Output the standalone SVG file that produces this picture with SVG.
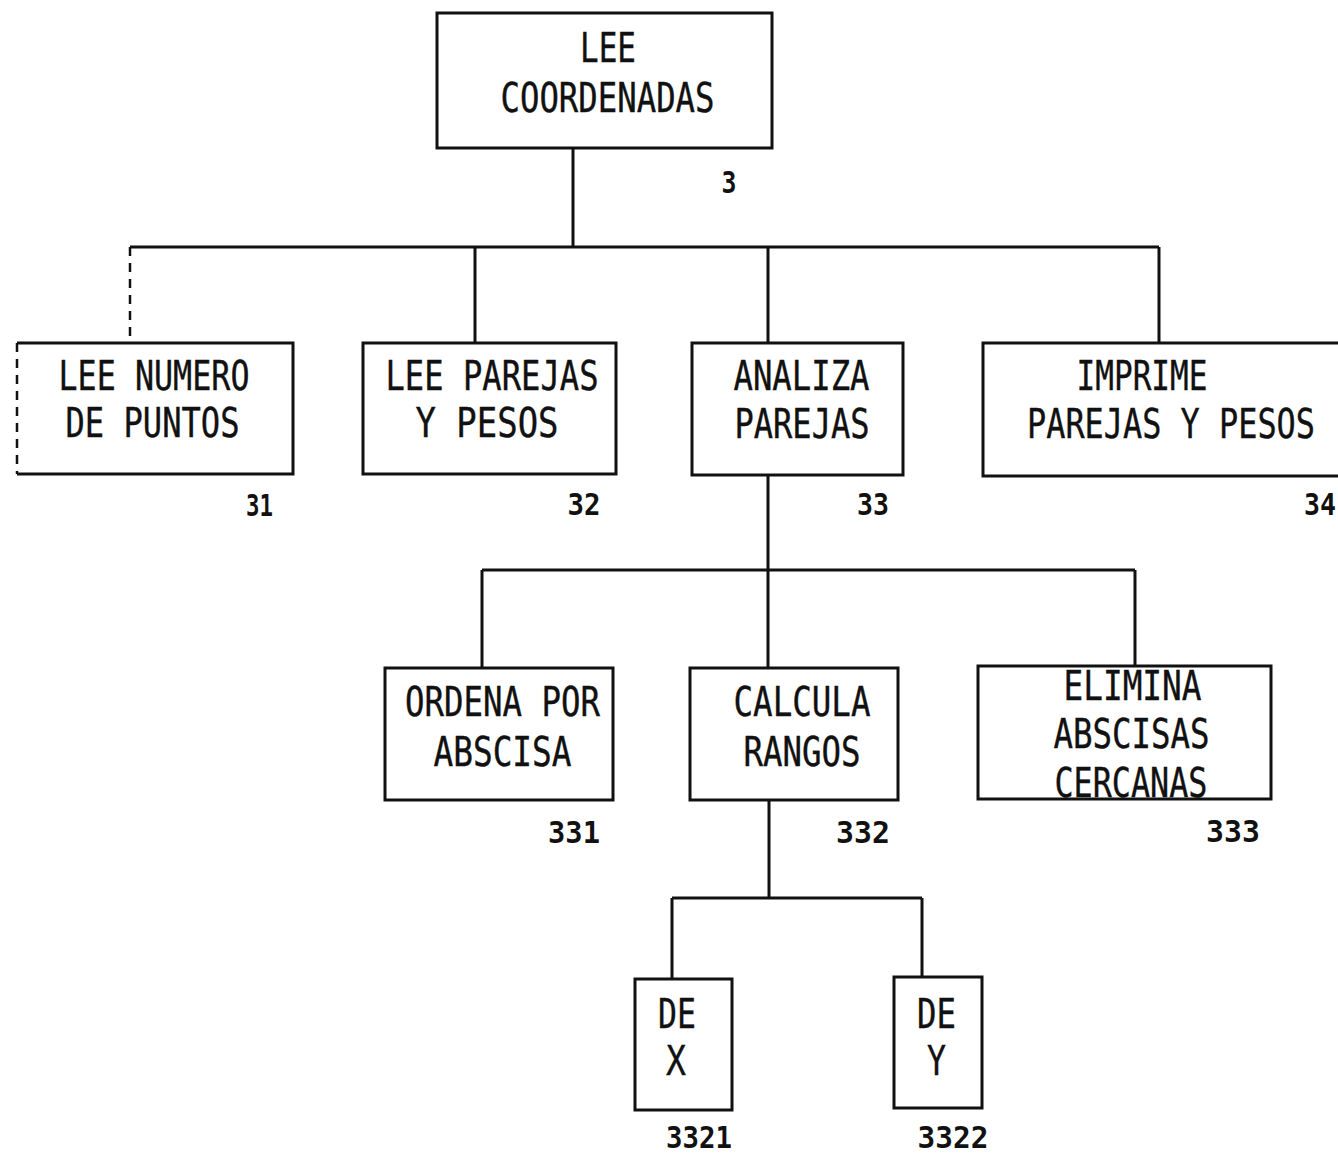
<svg xmlns="http://www.w3.org/2000/svg" width="1338" height="1154" viewBox="0 0 1338 1154">
<style>
.box{fill:#fff;stroke:#111;stroke-width:3}
.ln{fill:none;stroke:#111;stroke-width:3}
.dash{fill:none;stroke:#111;stroke-width:2.5;stroke-dasharray:9 7}
.t{font-family:"DejaVu Sans Mono","Liberation Mono",monospace;font-size:41px;fill:#111;stroke:#111;stroke-width:0.4;text-anchor:middle}
.n{font-family:"DejaVu Sans Mono","Liberation Mono",monospace;font-size:30px;font-weight:bold;fill:#111;text-anchor:middle}
</style>
<rect width="1338" height="1154" fill="#fff"/>
<g id="connectors">
<path class="ln" d="M573 148V247"/>
<path class="ln" d="M130 247H1159"/>
<path class="dash" d="M130 247V340"/>
<path class="ln" d="M475 247V343"/>
<path class="ln" d="M768 247V343"/>
<path class="ln" d="M1159 247V343"/>
<path class="ln" d="M768 475V668"/>
<path class="ln" d="M482 570H1135"/>
<path class="ln" d="M482 570V668"/>
<path class="ln" d="M1135 570V666"/>
<path class="ln" d="M769 800V898"/>
<path class="ln" d="M672 898H922"/>
<path class="ln" d="M672 898V979"/>
<path class="ln" d="M922 898V977"/>
</g>
<g id="n3">
<rect class="box" x="437" y="13" width="335" height="135"/>
<text class="t" x="608" y="62" textLength="56" lengthAdjust="spacingAndGlyphs">LEE</text>
<text class="t" x="607.5" y="112" textLength="214" lengthAdjust="spacingAndGlyphs">COORDENADAS</text>
<text class="n" x="729" y="193" textLength="15" lengthAdjust="spacingAndGlyphs">3</text>
</g>
<g id="n31">
<path class="box" d="M17 343H293V474H17"/>
<path class="dash" d="M17 343V474"/>
<text class="t" x="154" y="390" textLength="191" lengthAdjust="spacingAndGlyphs">LEE NUMERO</text>
<text class="t" x="152.5" y="437" textLength="174" lengthAdjust="spacingAndGlyphs">DE PUNTOS</text>
<text class="n" x="259.5" y="516" textLength="27" lengthAdjust="spacingAndGlyphs">31</text>
</g>
<g id="n32">
<rect class="box" x="363" y="343" width="253" height="131"/>
<text class="t" x="492" y="390" textLength="213" lengthAdjust="spacingAndGlyphs">LEE PAREJAS</text>
<text class="t" x="487" y="437" textLength="143" lengthAdjust="spacingAndGlyphs">Y PESOS</text>
<text class="n" x="584" y="515" textLength="33" lengthAdjust="spacingAndGlyphs">32</text>
</g>
<g id="n33">
<rect class="box" x="692" y="343" width="211" height="132"/>
<text class="t" x="801.5" y="390" textLength="136" lengthAdjust="spacingAndGlyphs">ANALIZA</text>
<text class="t" x="802" y="438" textLength="135" lengthAdjust="spacingAndGlyphs">PAREJAS</text>
<text class="n" x="873" y="515" textLength="32" lengthAdjust="spacingAndGlyphs">33</text>
</g>
<g id="n34">
<path class="box" d="M1338 343H983V476H1338"/>
<text class="t" x="1171" y="438" textLength="288" lengthAdjust="spacingAndGlyphs">PAREJAS Y PESOS</text>
<text class="t" x="1142" y="390" textLength="131" lengthAdjust="spacingAndGlyphs">IMPRIME</text>
<text class="n" x="1304" y="515" style="text-anchor:start" textLength="32" lengthAdjust="spacingAndGlyphs">34</text>
</g>
<g id="n331">
<rect class="box" x="385" y="668" width="228" height="132"/>
<text class="t" x="502.5" y="716" textLength="195" lengthAdjust="spacingAndGlyphs">ORDENA POR</text>
<text class="t" x="502.5" y="766" textLength="138" lengthAdjust="spacingAndGlyphs">ABSCISA</text>
<text class="n" x="574" y="843" textLength="52" lengthAdjust="spacingAndGlyphs">331</text>
</g>
<g id="n332">
<rect class="box" x="690" y="668" width="208" height="132"/>
<text class="t" x="802" y="716" textLength="137" lengthAdjust="spacingAndGlyphs">CALCULA</text>
<text class="t" x="802" y="766" textLength="117" lengthAdjust="spacingAndGlyphs">RANGOS</text>
<text class="n" x="863" y="843" textLength="54" lengthAdjust="spacingAndGlyphs">332</text>
</g>
<g id="n333">
<rect class="box" x="978" y="666" width="293" height="133"/>
<text class="t" x="1132.5" y="700" textLength="138" lengthAdjust="spacingAndGlyphs">ELIMINA</text>
<text class="t" x="1131.5" y="748" textLength="156" lengthAdjust="spacingAndGlyphs">ABSCISAS</text>
<text class="t" x="1131" y="797" textLength="153" lengthAdjust="spacingAndGlyphs">CERCANAS</text>
<text class="n" x="1233" y="842" textLength="54" lengthAdjust="spacingAndGlyphs">333</text>
</g>
<g id="n3321">
<rect class="box" x="635" y="979" width="97" height="131"/>
<text class="t" x="677" y="1028" textLength="38" lengthAdjust="spacingAndGlyphs">DE</text>
<text class="t" x="676" y="1075" textLength="20" lengthAdjust="spacingAndGlyphs">X</text>
<text class="n" x="699" y="1148" textLength="66" lengthAdjust="spacingAndGlyphs">3321</text>
</g>
<g id="n3322">
<rect class="box" x="894" y="977" width="88" height="131"/>
<text class="t" x="936.5" y="1028" textLength="39" lengthAdjust="spacingAndGlyphs">DE</text>
<text class="t" x="936.5" y="1075" textLength="19" lengthAdjust="spacingAndGlyphs">Y</text>
<text class="n" x="953" y="1148" textLength="71" lengthAdjust="spacingAndGlyphs">3322</text>
</g>
</svg>
